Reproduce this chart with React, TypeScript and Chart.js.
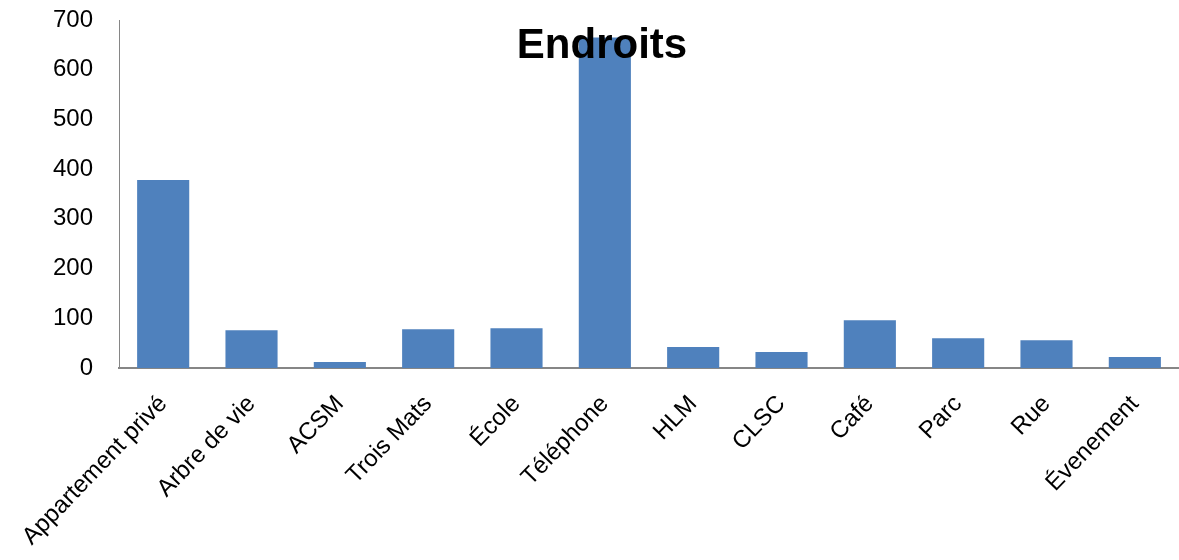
import React, { useEffect, useRef } from "react";
import { Chart, registerables } from "chart.js";

Chart.register(...registerables);

const TITLE = "Endroits";
const categories = [
  "Appartement privé",
  "Arbre de vie",
  "ACSM",
  "Trois Mats",
  "École",
  "Téléphone",
  "HLM",
  "CLSC",
  "Café",
  "Parc",
  "Rue",
  "Évenement",
];
const values = [378, 76, 12, 78, 80, 665, 42, 32, 96, 60, 56, 22];
const yTicks = [0, 100, 200, 300, 400, 500, 600, 700];

const FONT = '"Liberation Sans", Arial, sans-serif';

const titlePlugin = {
  id: "overlayTitle",
  afterDraw(chart: any) {
    const ctx = chart.ctx;
    ctx.save();
    ctx.font = `bold 42px ${FONT}`;
    ctx.fillStyle = "#000000";
    ctx.textAlign = "center";
    ctx.textBaseline = "alphabetic";
    ctx.fillText(TITLE, 602, 58);
    ctx.restore();
  },
};

export default function App() {
  const ref = useRef<HTMLCanvasElement | null>(null);
  useEffect(() => {
    if (!ref.current) return;
    const chart = new Chart(ref.current, {
      type: "bar",
      data: {
        labels: categories,
        datasets: [
          {
            data: values,
            backgroundColor: "#4F81BD",
            borderWidth: 0,
            barPercentage: 0.59,
            categoryPercentage: 1,
          },
        ],
      },
      options: {
        animation: false,
        responsive: false,
        layout: { padding: { top: 20, left: 0, right: 0, bottom: 0 } },
        plugins: {
          legend: { display: false },
          title: { display: false },
          tooltip: { enabled: false },
        },
        scales: {
          x: {
            grid: { display: false, drawTicks: false },
            border: { display: true, color: "#868686", width: 2 },
            ticks: {
              color: "#000000",
              font: { family: FONT, size: 24 },
              minRotation: 46,
              maxRotation: 46,
              padding: 22,
              labelOffset: 0,
              autoSkip: false,
            },
            afterFit(scale: any) {
              scale.height = 192;
              scale.paddingTop = 0;
              scale.paddingBottom = 0;
            },
          },
          y: {
            min: 0,
            max: 700,
            grid: { display: false, drawTicks: false },
            border: { display: true, color: "#868686", width: 1 },
            afterBuildTicks(scale: any) {
              scale.ticks = yTicks.map((v) => ({ value: v }));
            },
            ticks: {
              color: "#000000",
              font: { family: FONT, size: 24 },
              padding: 26,
            },
            afterFit(scale: any) {
              scale.width = 119;
              scale.paddingTop = 0;
              scale.paddingBottom = 0;
            },
          },
        },
      },
      plugins: [titlePlugin],
    });
    return () => chart.destroy();
  }, []);
  return (
    <div style={{ position: "absolute", left: 0, top: 0, width: 1179, height: 560, background: "#fff" }}>
      <canvas ref={ref} width={1179} height={560} />
    </div>
  );
}
